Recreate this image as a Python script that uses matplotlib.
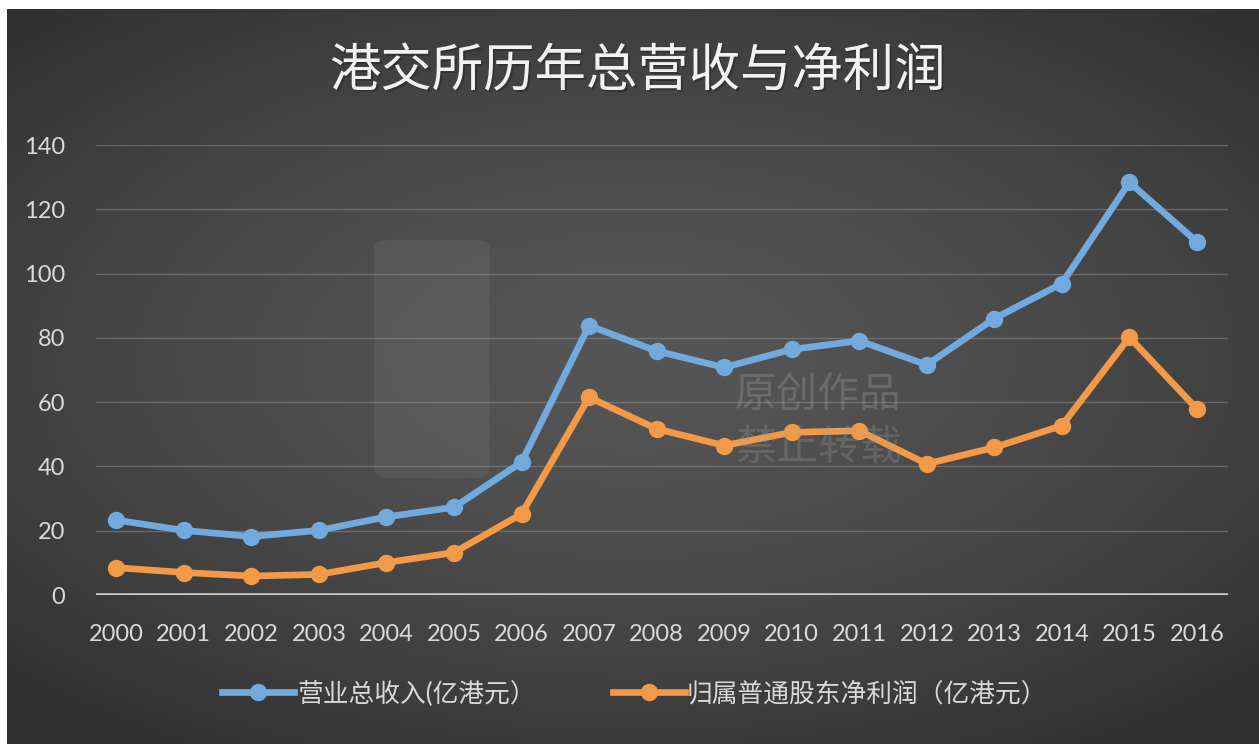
import numpy as np
import matplotlib
matplotlib.use('Agg')
import matplotlib.pyplot as plt
from matplotlib.lines import Line2D
from matplotlib.patches import FancyBboxPatch

plt.rcParams['font.family'] = ['Lato', 'Noto Sans CJK SC', 'DejaVu Sans']

# 数据（亿港元）
years = [str(y) for y in range(2000, 2017)]
revenue = [23.3, 20.1, 18.2, 20.1, 24.3, 27.3, 41.3, 83.8, 75.9, 70.8, 76.4, 79.1, 71.6, 86.0, 96.9, 128.4, 109.9]
net_profit = [8.5, 7.0, 5.9, 6.4, 10.1, 13.2, 25.2, 61.5, 51.7, 46.5, 50.6, 51.1, 40.8, 45.9, 52.7, 80.2, 57.9]

title = '港交所历年总营收与净利润'
label_rev = '营业总收入(亿港元）'
label_np = '归属普通股东净利润（亿港元）'
y_ticks = [0, 20, 40, 60, 80, 100, 120, 140]

blue = '#73aade'
orange = '#f29a48'

W, H = 1259, 744
fig = plt.figure(figsize=(W / 100, H / 100), dpi=100)
fig.patch.set_facecolor('white')

# 背景：深灰径向渐变
bg = fig.add_axes([7 / W, 0, 1 - 7 / W, (H - 9) / H])
gx, gy = np.meshgrid(np.linspace(-1, 1, 400), np.linspace(-1, 1, 240))
r = np.sqrt((gx * 0.9) ** 2 + ((gy + 0.05) * 1.0) ** 2)
shade = np.clip(0.335 - 0.1 * r ** 1.5, 0.19, 0.34)
bg.imshow(np.dstack([shade] * 3), aspect='auto', extent=[0, 1, 0, 1], interpolation='bilinear')
bg.set_axis_off()

# 水印图标
fig.patches.append(FancyBboxPatch((374 / W, 1 - 478 / H), 116 / W, 238 / H,
                                  boxstyle='round,pad=0,rounding_size=0.012',
                                  transform=fig.transFigure, facecolor='#a0a0a0',
                                  edgecolor='none', alpha=0.12, zorder=0.5))

ax = fig.add_axes([96 / W, (H - 595) / H, (1228 - 96) / W, 450 / H])
ax.set_facecolor('none')
x = np.arange(len(years))

for yv in y_ticks[1:]:
    ax.axhline(yv, color='#8c8c8c', lw=1, alpha=0.55, zorder=1)
ax.axhline(0, color='#c9c9c9', lw=2.6, zorder=1)

ax.plot(x, revenue, color=blue, lw=4.8, marker='o', ms=11.5, zorder=3)
ax.plot(x, net_profit, color=orange, lw=4.8, marker='o', ms=11.5, zorder=3)

ax.set_xlim(-0.3, 16.46)
ax.set_ylim(0, 140)
ax.set_xticks(x)
ax.set_xticklabels(years)
ax.set_yticks(y_ticks)
ax.tick_params(axis='both', length=0, colors='#dadada', labelsize=17)
ax.tick_params(axis='y', pad=22)
ax.tick_params(axis='x', pad=21)
for s in ax.spines.values():
    s.set_visible(False)

# 水印文字
fig.text(735 / W, 1 - 395 / H, '原创作品', fontsize=30, color='#9a9a9a', alpha=0.35,
         ha='left', va='center', family=['Noto Sans CJK SC'])
fig.text(735 / W, 1 - 448 / H, '禁止转载', fontsize=30, color='#9a9a9a', alpha=0.3,
         ha='left', va='center', family=['Noto Sans CJK SC'])

# 标题
fig.text(639 / W, 1 - 74 / H, title, fontsize=37, color='#2a2a2a', ha='center', va='center',
         family=['Noto Sans CJK SC'], alpha=0.6)
fig.text(637 / W, 1 - 72 / H, title, fontsize=37, color='#f2f2f2', ha='center', va='center',
         family=['Noto Sans CJK SC'])

handles = [
    Line2D([], [], color=blue, lw=4.8, marker='o', ms=11.5),
    Line2D([], [], color=orange, lw=4.8, marker='o', ms=11.5),
]
leg = fig.legend(handles, [label_rev, label_np], loc='center', bbox_to_anchor=(635 / W, 51 / H),
                 ncol=2, frameon=False, fontsize=18.5, handlelength=2.8, handletextpad=0.1,
                 columnspacing=3.0)
for t in leg.get_texts():
    t.set_color('#d8d8d8')

fig.savefig('out.png', dpi=100)
